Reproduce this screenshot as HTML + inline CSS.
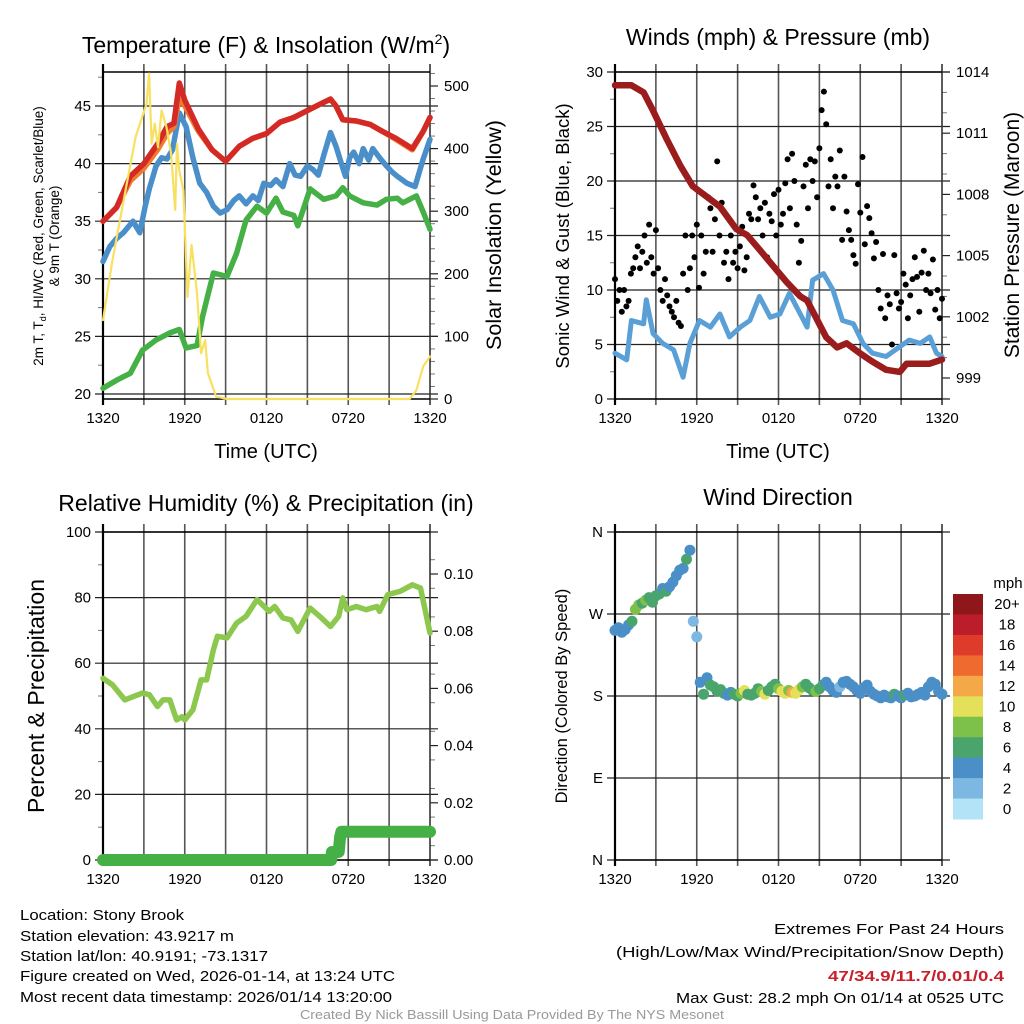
<!DOCTYPE html>
<html><head><meta charset="utf-8"><style>
html,body{margin:0;padding:0;background:#fff;}
svg{display:block;font-family:"Liberation Sans",sans-serif;}
</style></head><body>
<svg id="s" width="1024" height="1024" viewBox="0 0 1024 1024" xmlns="http://www.w3.org/2000/svg">
<rect width="1024" height="1024" fill="#fff"/>
<text x="266" y="53" font-size="23" text-anchor="middle">Temperature (F) &amp; Insolation (W/m<tspan dy="-9" font-size="14">2</tspan><tspan dy="9">)</tspan></text>
<text x="778" y="45" font-size="23" text-anchor="middle">Winds (mph) &amp; Pressure (mb)</text>
<text x="266" y="511" font-size="23" text-anchor="middle">Relative Humidity (%) &amp; Precipitation (in)</text>
<text x="778" y="505" font-size="23" text-anchor="middle">Wind Direction</text>
<g id="g1"></g>
<g id="g2"></g>
<g id="g3"></g>
<g id="g4"></g>
<g font-size="15">
<text x="20" y="920" textLength="164" lengthAdjust="spacingAndGlyphs">Location: Stony Brook</text>
<text x="20" y="941" textLength="214" lengthAdjust="spacingAndGlyphs">Station elevation: 43.9217 m</text>
<text x="20" y="961" textLength="248" lengthAdjust="spacingAndGlyphs">Station lat/lon: 40.9191; -73.1317</text>
<text x="20" y="981" textLength="375" lengthAdjust="spacingAndGlyphs">Figure created on Wed, 2026-01-14, at 13:24 UTC</text>
<text x="20" y="1002" textLength="372" lengthAdjust="spacingAndGlyphs">Most recent data timestamp: 2026/01/14 13:20:00</text>
<text x="1004" y="934" text-anchor="end" textLength="230" lengthAdjust="spacingAndGlyphs">Extremes For Past 24 Hours</text>
<text x="1004" y="957" text-anchor="end" textLength="388" lengthAdjust="spacingAndGlyphs">(High/Low/Max Wind/Precipitation/Snow Depth)</text>
<text x="1004" y="981" text-anchor="end" font-weight="bold" fill="#c8202a" textLength="176" lengthAdjust="spacingAndGlyphs">47/34.9/11.7/0.01/0.4</text>
<text x="1004" y="1003" text-anchor="end" textLength="328" lengthAdjust="spacingAndGlyphs">Max Gust: 28.2 mph On 01/14 at 0525 UTC</text>
<text x="512" y="1019" text-anchor="middle" font-size="12.5" fill="#999" textLength="424" lengthAdjust="spacingAndGlyphs">Created By Nick Bassill Using Data Provided By The NYS Mesonet</text>
</g>
</svg>
<script>
// ---------- DATA ----------
const timeLabels=["1320","1920","0120","0720","1320"];
const tempHours=[0,1,2,3,4,4.7,5.2,5.6,6,7,8,9,10,11,12,13,14,15,16,16.7,17.1,17.6,18.6,19.6,20.5,21.5,22.7,23.5,24];
const tempRed=[35,36.2,38.9,40,41.7,43.2,43.5,47,45.5,43,41.2,40.2,41.5,42.2,42.6,43.6,44,44.6,45.2,45.6,45,43.8,43.7,43.4,42.8,42.2,41.3,42.8,44];
const tempOrange=[35,36.2,38.5,39.6,41.2,42.6,43.2,45.8,45,42.8,41.2,40.2,41.5,42.2,42.6,43.6,44,44.6,45.2,45.6,45,43.8,43.7,43.4,42.8,42.1,41.2,42.8,44];
const wcHours=[0,0.5,1,1.5,2.2,2.7,3.1,3.4,3.9,4.3,4.7,5.1,5.6,6.1,6.6,7.1,7.6,8.1,8.6,9.1,9.6,10,10.5,11,11.4,11.8,12.3,12.7,13.2,13.7,14.1,14.5,15,15.4,15.8,16.2,16.7,17.1,17.5,17.8,18.1,18.4,18.8,19.1,19.5,19.8,20.3,20.8,21.2,21.6,22.3,22.9,23.5,24];
const wcBlue=[31.5,32.8,33.5,34,35,34,36.3,37.8,39.8,40.5,40.4,41.2,44.4,43.2,40.5,38.3,37.5,36.3,35.7,36,36.8,37.2,36.5,37.2,36.8,38.3,38.1,38.6,38,40,39,38.9,39.8,39.5,39,40.7,42.7,41.5,40,38.9,40.5,41,40,41.3,40.3,41.3,40.5,39.8,39.3,38.9,38.3,38,40.4,42.1];
const dewHours=[0,1,2,2.9,3.9,4.9,5.6,6.1,6.9,7.3,8.1,9.1,9.8,10.5,11.3,12,12.7,13.2,14,14.3,15.2,16.2,17.1,17.6,18.1,19.1,20.1,20.8,21.6,22,23,23.5,24];
const dewGreen=[20.5,21.2,21.8,23.8,24.7,25.3,25.6,24,24.2,26.7,30.5,30.2,32.2,35.1,36.3,35.7,37,35.8,35.5,34.6,37.8,36.9,37.2,37.9,37.2,36.6,36.4,36.9,37,36.6,37.2,35.8,34.3];
const solarHours=[0,0.7,1.7,2.4,3.2,3.38,3.57,3.8,4.04,4.3,4.65,5.0,5.3,5.43,5.6,5.9,6.2,6.5,6.9,7.2,7.5,7.7,8.3,9.1,22.5,23,23.5,24];
const solarYellow=[126,222,339,419,472,520,408,440,402,461,435,392,302,408,365,333,163,246,169,73,94,41,4,0,0,14,52,68];
const presHours=[0,1.2,2.1,2.8,3.8,4.8,5.7,6.7,7.7,8.9,9.7,10.6,11.6,12.6,13.6,14.1,14.8,15.5,16.3,17,18,18.9,19.9,20.9,21.4,22.4,23.1,24];
const presMaroon=[1013.35,1013.35,1013.0,1012.1,1010.7,1009.4,1008.4,1007.9,1007.4,1006.3,1006.0,1005.3,1004.5,1003.7,1003.0,1002.8,1001.9,1001.0,1000.5,1000.7,1000.2,999.8,999.4,999.3,999.7,999.7,999.7,999.9];
const windHours=[0,0.86,1.2,2.1,2.3,2.8,3.5,4.3,5,5.5,6.2,7,7.7,8.4,9.2,9.9,10.6,11.4,12.1,12.8,13.6,14.1,14.5,15.3,16,16.7,17.5,18.2,18.9,19.9,20.9,21.6,22.4,23.1,23.6,24];
const windBlue=[4.2,3.6,7.2,6.9,9.1,6,5.1,4.5,2,5.1,7.2,6.6,7.8,5.7,6.6,7.2,9.4,7.5,7.8,9.7,7.8,6.6,10.9,11.5,10,7.2,6.9,5.1,4.2,3.9,4.8,5.4,5.1,5.7,4.2,3.9];
const gustVals=[11,9,10,8,10,8.5, 9,11.5,12,13,14,12, 13.5,15,12.5,16,13,11.5, 15.5,12,10,9,11,9.5, 8.5,8,7.5,9,7,6.7, 11.5,15,10,12,15,13, 16,10.2,15,11.5,13.5,18.5, 17.5,13.5,16.5,21.8,15,18, 12.5,13.5,11,15,12.5,13.5, 12,14,15.8,11.8,13,17, 16.5,19.6,18.5,16.5,17.5,15, 18,13,17,16.3,18.8,15, 19.2,16,17,19.8,22,17.5, 22.5,20,16,12.5,14.5,19.5, 21.5,17.5,22,20,21.8,18.5, 23,26.5,28.2,25.2,19.5,22, 17.5,20.4,19.5,22.8,14.6,20.4, 17.2,15.5,14.6,13.2,12.4,19.7, 17.1,22.2,14.2,17.7,16.6,15.2, 12.9,14.4,10,8.3,13.3,7.4, 9.5,8.7,5,13.2,9.7,8.3, 8.9,11.5,10.5,7.4,9.5,11, 13,11.2,8,11.6,13.6,10, 11.5,9.7,12.8,8.2,10,7.4,9.2];
const rhHours=[0,0.7,1.6,2.2,2.9,3.4,4,4.4,4.9,5.4,5.8,6,6.6,7.2,7.6,8.1,8.4,9.1,9.8,10.5,11.3,12.2,12.6,13.2,13.8,14.3,15.2,15.9,16.7,17.3,17.6,17.9,18.6,19.3,20.1,20.3,20.9,21.8,22.7,23.3,24];
const rhVals=[55.4,53.4,48.8,49.8,50.9,50.4,46.8,48.8,48.8,42.7,43.7,42.7,45.8,54.9,54.9,64.1,68.2,67.7,72.2,74.3,79.4,75.8,77.3,73.8,73.2,69.7,76.8,74.3,71.2,74.3,79.9,76.3,77.3,76.3,77.3,75.8,80.9,81.9,83.9,82.9,69.2];
const precipHours=[0,16.75,16.8,17.3,17.4,17.5,24];
const precipVals=[0,0,0.0028,0.0028,0.008,0.0099,0.0099];
const dirVals=[252,255,250,253, 258,262,275,280, 282,285,288,283, 290,292,298,295, 300,305,312,318, 320,330,340,262, 245,195,182,200, 192,190,185,187, 183,181,184,182, 180,183,186,182, 181,183,188,185, 182,186,190,193, 188,185,183,186, 184,183,187,190, 193,189,186,185, 188,192,195,190, 186,184,190,195, 196,193,190,186, 183,189,192,185, 182,180,178,181, 179,178,182,180, 178,181,183,179, 180,182,184,181, 190,195,193,185,182];
const dirSpeed=[4,4,4,4, 5,7,8,8, 7,8,6,6, 6,7,5,6, 5,5,4,5, 5,6,4,3, 2,4,6,5, 7,6,7,7, 6,5,5,6, 7,8,10,7, 7,6,7,8, 10,7,6,7, 9,10,11,8, 12,10,11,9, 7,6,6,8, 7,6,5,5, 4,5,3,4, 5,5,4,5, 4,5,5,4, 4,5,4,5, 5,4,6,5, 5,6,5,4, 5,4,5,4, 4,5,5,4,5];
const cbLabels=["20+","18","16","14","12","10","8","6","4","2","0"];
const cbColors=["#8f1619","#bb1e2a","#de3b2b","#ef6a2e","#f5a848","#e5e05a","#7dc04a","#4aa56c","#4a8fc7","#7cb8e2","#b3e3f7"];

// ---------- HELPERS ----------
const NS="http://www.w3.org/2000/svg";
function mk(parent,tag,attrs){const e=document.createElementNS(NS,tag);for(const k in attrs)e.setAttribute(k,attrs[k]);parent.appendChild(e);return e;}
function lin(d0,d1,r0,r1){return v=>r0+(v-d0)*(r1-r0)/(d1-d0);}
function pathFrom(xs,ys,fx,fy){return xs.map((h,i)=>(i?"L":"M")+fx(h).toFixed(1)+","+fy(ys[i]).toFixed(1)).join("");}

function frame(g,L,R,T,B,fx,leftTicks,fyL,rightTicks,fyR,leftMinor,rightMinor){
  for(let h=3;h<24;h+=3){
    const gl=mk(g,"line",{x1:fx(h),x2:fx(h),y1:T-8,y2:B+6,stroke:"#555","stroke-width":1.6});
    
    
  }
  leftTicks.forEach(t=>{
    const y=fyL(t.v);
    const hl=mk(g,"line",{x1:L-8,x2:R+8,y1:y,y2:y,stroke:"#222","stroke-width":1.2});
    
    
    const tx=mk(g,"text",{x:L-12,y:y+5,"font-size":15,"text-anchor":"end"});tx.textContent=t.l;
    
    
  });
  (leftMinor||[]).forEach(v=>{const y=fyL(v);mk(g,"line",{x1:L-5,x2:L,y1:y,y2:y,stroke:"#777","stroke-width":1});});
  (rightTicks||[]).forEach(t=>{
    const y=fyR(t.v);
    mk(g,"line",{x1:R,x2:R+8,y1:y,y2:y,stroke:"#222","stroke-width":1.2});
    const tx=mk(g,"text",{x:R+14,y:y+5,"font-size":15});tx.textContent=t.l;
    
    
  });
  (rightMinor||[]).forEach(v=>{const y=fyR(v);mk(g,"line",{x1:R,x2:R+5,y1:y,y2:y,stroke:"#777","stroke-width":1});});
  mk(g,"line",{x1:L,x2:L,y1:T-8,y2:B+6,stroke:"#000","stroke-width":2.2});
  mk(g,"line",{x1:R,x2:R,y1:T-8,y2:B+6,stroke:"#333","stroke-width":1.6});
  mk(g,"line",{x1:L,x2:R,y1:T,y2:T,stroke:"#000","stroke-width":1.5});
  mk(g,"line",{x1:L,x2:R,y1:B,y2:B,stroke:"#000","stroke-width":1.5});
  timeLabels.forEach((l,i)=>{
    const tx=mk(g,"text",{x:fx(i*6),y:B+24,"font-size":15,"text-anchor":"middle"});tx.textContent=l;
    
    
  });
}
function line(g,xs,ys,fx,fy,color,w,name){
  const p=mk(g,"path",{d:pathFrom(xs,ys,fx,fy),fill:"none",stroke:color,"stroke-width":w,"stroke-linejoin":"round","stroke-linecap":"round"});
  
  
}
function rotText(g,x,y,size,txt,name){
  const t=mk(g,"text",{x:x,y:y,"font-size":size,"text-anchor":"middle",transform:`rotate(-90 ${x} ${y})`});t.textContent=txt;
  
  
  return t;
}

// ---------- PANEL 1 ----------
(function(){
  const g=document.getElementById("g1");
  const L=103,R=430,T=72,B=399;
  const fx=lin(0,24,L,R), fy=lin(20,45,394,106), fyR=lin(0,500,399,86);
  const lt=[20,25,30,35,40,45].map(v=>({v:v,l:String(v)}));
  const rt=[0,100,200,300,400,500].map(v=>({v:v,l:String(v)}));
  const lm=[22.5,27.5,32.5,37.5,42.5,47.5];
  const rm=[20,40,60,80,120,140,160,180,220,240,260,280,320,340,360,380,420,440,460,480,520];
  frame(g,L,R,T,B,fx,lt,fy,rt,fyR,lm,rm);
  line(g,dewHours,dewGreen,fx,fy,"#45b045",5.5,"dewpoint-line");
  line(g,wcHours,wcBlue,fx,fy,"#4a8fca",5.5,"windchill-line");
  line(g,tempHours,tempOrange,fx,fy,"#f07a30",5.5,"temp-9m-line");
  line(g,tempHours,tempRed,fx,fy,"#d42a26",5.5,"temp-2m-line");
  line(g,solarHours,solarYellow,fx,fyR,"#f8e060",2.2,"solar-line");
  const t1=rotText(g,43,236,13.5,"2m T, T","left-axis-title-line1");
  const sub=mk(t1,"tspan",{"font-size":9,dy:3});sub.textContent="d";
  const rest=mk(t1,"tspan",{dy:-3});rest.textContent=", HI/WC (Red, Green, Scarlet/Blue)";
  rotText(g,59,236,13.5,"& 9m T (Orange)","left-axis-title-line2");
  rotText(g,501,235,21.5,"Solar Insolation (Yellow)","right-axis-title");
  const xt=mk(g,"text",{x:266,y:458,"font-size":20,"text-anchor":"middle"});xt.textContent="Time (UTC)";
  
  
})();

// ---------- PANEL 2 ----------
(function(){
  const g=document.getElementById("g2");
  const L=615,R=942,T=72,B=399;
  const fx=lin(0,24,L,R), fy=lin(0,30,399,72), fyR=lin(999,1014,378,72);
  const lt=[0,5,10,15,20,25,30].map(v=>({v:v,l:String(v)}));
  const rt=[999,1002,1005,1008,1011,1014].map(v=>({v:v,l:String(v)}));
  const rm=[998,1000,1001,1003,1004,1006,1007,1009,1010,1012,1013];
  const lm=[2.5,7.5,12.5,17.5,22.5,27.5];
  frame(g,L,R,T,B,fx,lt,fy,rt,fyR,lm,rm);
  line(g,windHours,windBlue,fx,fy,"#5a9fd6",5,"sonic-wind-line");
  gustVals.forEach((v,i)=>{
    const c=mk(g,"circle",{cx:fx(i/6).toFixed(1),cy:fy(v).toFixed(1),r:3,fill:"#000"});
    
    
  });
  line(g,presHours,presMaroon,fx,fyR,"#9a1c1c",6.5,"pressure-line");
  rotText(g,569,236,18.5,"Sonic Wind & Gust (Blue, Black)","left-axis-title");
  rotText(g,1019,235,21,"Station Pressure (Maroon)","right-axis-title");
  const xt=mk(g,"text",{x:778,y:458,"font-size":20,"text-anchor":"middle"});xt.textContent="Time (UTC)";
  
  
})();

// ---------- PANEL 3 ----------
(function(){
  const g=document.getElementById("g3");
  const L=103,R=430,T=532,B=860;
  const fx=lin(0,24,L,R), fy=lin(0,100,860,532), fyR=lin(0,0.1,860,574);
  const lt=[0,20,40,60,80,100].map(v=>({v:v,l:String(v)}));
  const rt=[0,0.02,0.04,0.06,0.08,0.10].map(v=>({v:v,l:v.toFixed(2)}));
  const lm=[10,30,50,70,90];
  const rm=[0.005,0.015,0.025,0.035,0.045,0.055,0.065,0.075,0.085,0.095,0.105];
  frame(g,L,R,T,B,fx,lt,fy,rt,fyR,lm,rm);
  line(g,precipHours,precipVals,fx,fyR,"#45b045",12,"precip-line");
  line(g,rhHours,rhVals,fx,fy,"#8cc84e",5.5,"rh-line");
  rotText(g,44,696,23,"Percent & Precipitation","left-axis-title");
})();

// ---------- PANEL 4 ----------
(function(){
  const g=document.getElementById("g4");
  const L=615,R=942,T=532,B=860;
  const fx=lin(0,24,L,R), fy=lin(0,360,860,532);
  const lt=[{v:360,l:"N"},{v:270,l:"W"},{v:180,l:"S"},{v:90,l:"E"},{v:0,l:"N"}];
  frame(g,L,R,T,B,fx,lt,fy,[],null,[],[]);
  function col(s){let k=Math.floor(s/2);if(k>10)k=10;return cbColors[10-k];}
  dirVals.forEach((d,i)=>{
    const c=mk(g,"circle",{cx:fx(i/4).toFixed(1),cy:fy(d).toFixed(1),r:5.5,fill:col(dirSpeed[i])});
    
    
  });
  rotText(g,567,696,16.5,"Direction (Colored By Speed)","left-axis-title");
  const cb=mk(g,"g",{});
  
  
  const h=(819-594)/cbColors.length;
  cbColors.forEach((c,i)=>{
    const r=mk(cb,"rect",{x:953,y:594+i*h,width:30,height:h+0.5,fill:c});
    
    
    const t=mk(cb,"text",{x:1007,y:594+i*h+h/2+5,"font-size":15,"text-anchor":"middle"});t.textContent=cbLabels[i];
    
    
  });
  const u=mk(cb,"text",{x:1008,y:588,"font-size":15,"text-anchor":"middle"});u.textContent="mph";
  
  
})();
</script>
</body></html>
